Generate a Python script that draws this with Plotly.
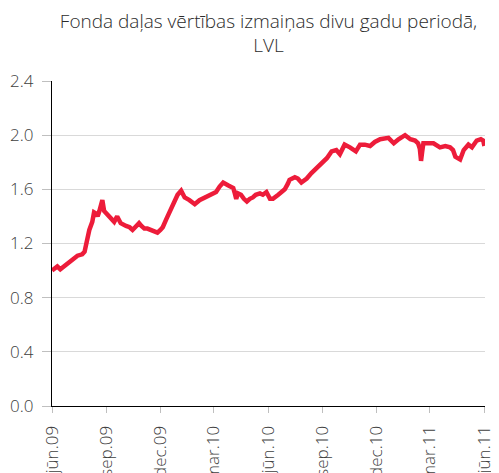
import plotly.graph_objects as go

# Data
dates = [
    "2009-06-01", "2009-06-05", "2009-06-10", "2009-06-15", "2009-06-18", "2009-06-23",
    "2009-06-27", "2009-07-05", "2009-07-14", "2009-07-22", "2009-07-26", "2009-07-28",
    "2009-07-31", "2009-08-03", "2009-08-08", "2009-08-11", "2009-08-15", "2009-08-17",
    "2009-08-20", "2009-08-23", "2009-08-25", "2009-08-28", "2009-09-01", "2009-09-05",
    "2009-09-09", "2009-09-14", "2009-09-19", "2009-09-25", "2009-10-04", "2009-10-10",
    "2009-10-15", "2009-10-22", "2009-10-26", "2009-10-30", "2009-11-04", "2009-11-09",
    "2009-11-15", "2009-11-21", "2009-11-26", "2009-12-01", "2009-12-05", "2009-12-11",
    "2009-12-16", "2009-12-22", "2009-12-27", "2009-12-30", "2010-01-05", "2010-01-11",
    "2010-01-19", "2010-01-28", "2010-02-05", "2010-02-14", "2010-02-22", "2010-03-05",
    "2010-03-11", "2010-03-17", "2010-03-25", "2010-04-03", "2010-04-05", "2010-04-08",
    "2010-04-11", "2010-04-16", "2010-04-21", "2010-04-26", "2010-05-01", "2010-05-06",
    "2010-05-11", "2010-05-18", "2010-05-23", "2010-05-29", "2010-06-04", "2010-06-09",
    "2010-06-18", "2010-06-24", "2010-06-29", "2010-07-04", "2010-07-07", "2010-07-16",
    "2010-07-21", "2010-07-27", "2010-08-05", "2010-08-13", "2010-08-22", "2010-08-30",
    "2010-09-08", "2010-09-16", "2010-09-24", "2010-09-30", "2010-10-08", "2010-10-17",
    "2010-10-27", "2010-11-03", "2010-11-11", "2010-11-20", "2010-11-28", "2010-12-07",
    "2010-12-21", "2010-12-30", "2011-01-07", "2011-01-18", "2011-01-27", "2011-02-04",
    "2011-02-09", "2011-02-12", "2011-02-14", "2011-02-16", "2011-02-18", "2011-03-07",
    "2011-03-18", "2011-03-27", "2011-04-04", "2011-04-09", "2011-04-13", "2011-04-21",
    "2011-04-27", "2011-05-05", "2011-05-11", "2011-05-19", "2011-05-26", "2011-05-30",
    "2011-06-01",
]
values = [
    1.00, 1.01, 1.03, 1.01, 1.02, 1.04,
    1.06, 1.08, 1.11, 1.12, 1.14, 1.18,
    1.25, 1.30, 1.36, 1.43, 1.42, 1.40,
    1.44, 1.48, 1.52, 1.44, 1.42, 1.40,
    1.38, 1.36, 1.40, 1.35, 1.33, 1.32,
    1.30, 1.33, 1.35, 1.33, 1.31, 1.31,
    1.30, 1.29, 1.28, 1.30, 1.32, 1.38,
    1.43, 1.48, 1.53, 1.56, 1.59, 1.54,
    1.52, 1.49, 1.52, 1.54, 1.56, 1.58,
    1.62, 1.65, 1.63, 1.61, 1.58, 1.53,
    1.57, 1.56, 1.53, 1.51, 1.53, 1.54,
    1.56, 1.57, 1.56, 1.58, 1.53, 1.53,
    1.56, 1.58, 1.60, 1.64, 1.67, 1.69,
    1.68, 1.65, 1.68, 1.72, 1.76, 1.79,
    1.83, 1.88, 1.89, 1.86, 1.93, 1.91,
    1.88, 1.93, 1.93, 1.92, 1.95, 1.97,
    1.98, 1.94, 1.97, 2.00, 1.97, 1.96,
    1.94, 1.90, 1.81, 1.88, 1.94, 1.94,
    1.91, 1.92, 1.91, 1.89, 1.84, 1.82,
    1.89, 1.93, 1.91, 1.96, 1.97, 1.96,
    1.92,
]

tick_dates = ["2009-06-01", "2009-09-01", "2009-12-01", "2010-03-01", "2010-06-01",
              "2010-09-01", "2010-12-01", "2011-03-01", "2011-06-01"]
tick_labels = ["jūn.09", "sep.09", "dec.09", "mar.10", "jūn.10",
               "sep.10", "dec.10", "mar.11", "jūn.11"]
y_ticks = [0.0, 0.4, 0.8, 1.2, 1.6, 2.0, 2.4]

title_text = "Fonda daļas vērtības izmaiņas divu gadu periodā,<br>LVL"

FONT = "Open Sans"
TXT = "#404040"

fig = go.Figure()
fig.add_trace(go.Scatter(
    x=dates, y=values, mode="lines",
    line=dict(color="#ED1C3A", width=4.5),
    hoverinfo="skip",
))

# The page body has an 8px default margin, so the figure is sized to fit the window.
fig.update_layout(
    width=491, height=465,
    margin=dict(l=44, r=14, t=73, b=67, autoexpand=False),
    paper_bgcolor="white", plot_bgcolor="white",
    showlegend=False,
    font=dict(family=FONT, color=TXT, size=16, weight=300),
    title=dict(
        text=title_text,
        x=0.5, xref="paper", xanchor="center",
        y=0.958, yref="container", yanchor="top",
        font=dict(family=FONT, size=19, color="#2b2b2b", weight=300),
        automargin=False,
    ),
    xaxis=dict(
        type="date",
        range=["2009-06-01", "2011-06-02"],
        tickmode="array", tickvals=tick_dates, ticktext=tick_labels,
        tickangle=-90,
        automargin=False,
        showgrid=False, zeroline=False,
        showline=True, linecolor="black", linewidth=1.2,
        ticks="outside", ticklen=6, tickcolor="#bfbfbf", tickwidth=1,
        tickfont=dict(family=FONT, size=17, color=TXT, weight=300),
        ticklabelstandoff=6,
    ),
    yaxis=dict(
        range=[0, 2.4],
        tickmode="array", tickvals=y_ticks,
        tickformat=".1f",
        automargin=False,
        showgrid=True, gridcolor="#d9d9d9", gridwidth=1,
        zeroline=False,
        showline=True, linecolor="black", linewidth=1.2,
        ticks="outside", ticklen=9, tickcolor="#bfbfbf", tickwidth=1,
        tickfont=dict(family=FONT, size=17, color=TXT, weight=300),
        ticklabelstandoff=5,
    ),
)

fig.write_html("out.html")
